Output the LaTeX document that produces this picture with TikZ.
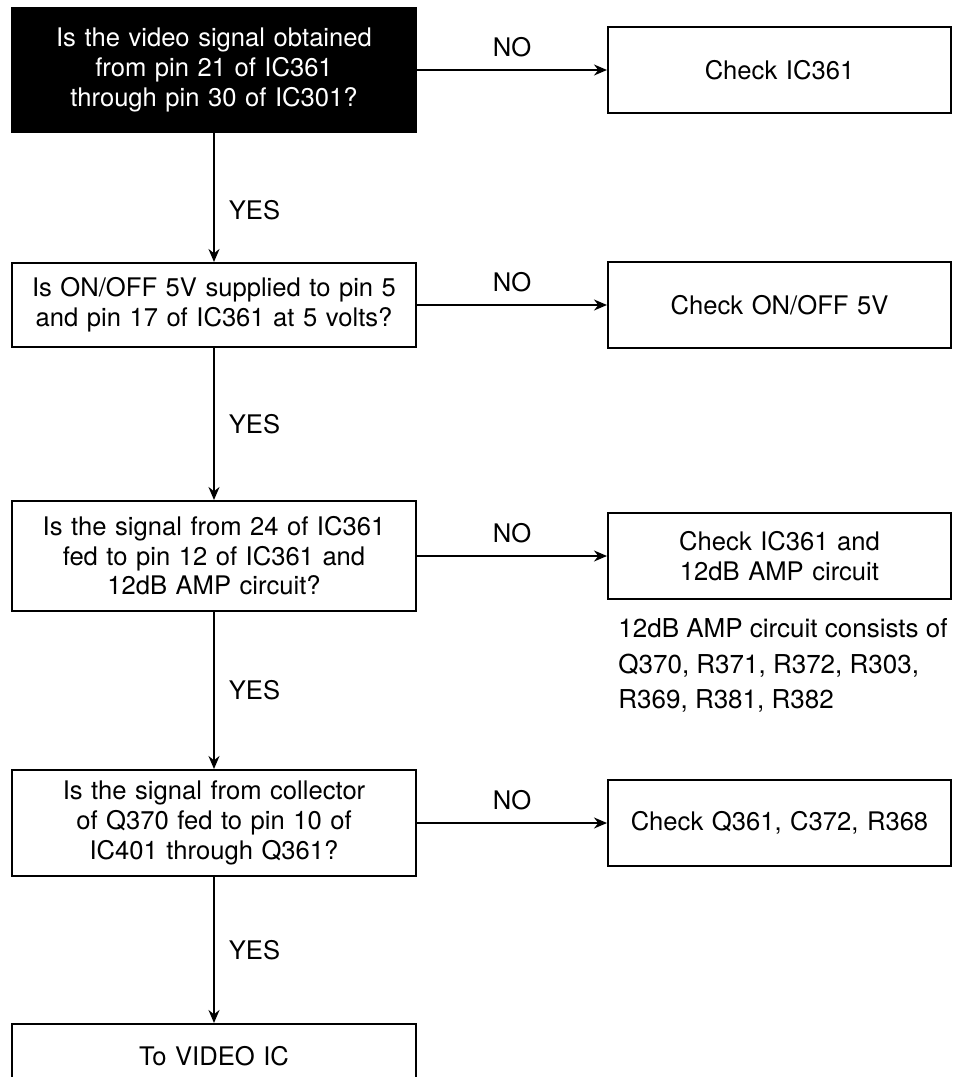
\documentclass[tikz,border=0pt]{standalone}
\usepackage{fontspec}
\setmainfont{TeX Gyre Heros}
\usetikzlibrary{arrows.meta, positioning}

\begin{document}
\begin{tikzpicture}[
  every node/.style={font=\fontsize{12.8}{14.8}\selectfont},
  question/.style={rectangle, draw=black, line width=1pt, text width=196pt,
                   inner xsep=3pt, inner ysep=2pt, align=center},
  check/.style={rectangle, draw=black, line width=1pt, text width=165.5pt,
                inner xsep=3pt, minimum height=43pt, align=center},
  answer/.style={inner sep=0pt},
  arrow/.style={-{Stealth[length=6.5pt, width=5.5pt]}, line width=0.9pt}
]
  \useasboundingbox (0,0) rectangle (479.5pt,-538.5pt);

  % Main flow (top to bottom)
  \node[question, fill=black, text=white, minimum height=62pt] (video) at (107pt,-35pt)
    {Is the video signal obtained\\from pin 21 of IC361\\through pin 30 of IC301?};

  \node[question, minimum height=42pt, below=64.5pt of video] (supply)
    {Is ON/OFF 5V supplied to pin 5\\and pin 17 of IC361 at 5 volts?};

  \node[question, minimum height=55pt, below=76pt of supply] (amp)
    {Is the signal from 24 of IC361\\fed to pin 12 of IC361 and\\12dB AMP circuit?};

  \node[question, minimum height=53pt, below=78.5pt of amp] (collector)
    {Is the signal from collector\\of Q370 fed to pin 10 of\\IC401 through Q361?};

  \node[question, minimum height=32pt, below=73pt of collector] (videoic)
    {To VIDEO IC};

  % Checks (right side)
  \node[check, right=95pt of video] (checkic) {Check IC361};
  \node[check, right=95pt of supply] (checksupply) {Check ON/OFF 5V};
  \node[check, right=95pt of amp] (checkamp) {Check IC361 and\\12dB AMP circuit};
  \node[check, right=95pt of collector] (checkq) {Check Q361, C372, R368};

  \node[anchor=north west, align=left, inner sep=0pt,
        font=\fontsize{13}{17.8}\selectfont]
    (note) at ([xshift=5.5pt, yshift=-9pt]checkamp.south west)
    {12dB AMP circuit consists of\\Q370, R371, R372, R303,\\R369, R381, R382};

  % Arrows
  \draw[arrow] (video) -- node[answer, pos=0.6, right=7pt] {YES} (supply);
  \draw[arrow] (supply) -- node[answer, right=7pt] {YES} (amp);
  \draw[arrow] (amp) -- node[answer, right=7pt] {YES} (collector);
  \draw[arrow] (collector) -- node[answer, right=7pt] {YES} (videoic);
  \draw[arrow] (video) -- node[answer, above=6pt] {NO} (checkic);
  \draw[arrow] (supply) -- node[answer, above=6pt] {NO} (checksupply);
  \draw[arrow] (amp) -- node[answer, above=6pt] {NO} (checkamp);
  \draw[arrow] (collector) -- node[answer, above=6pt] {NO} (checkq);
\end{tikzpicture}
\end{document}
